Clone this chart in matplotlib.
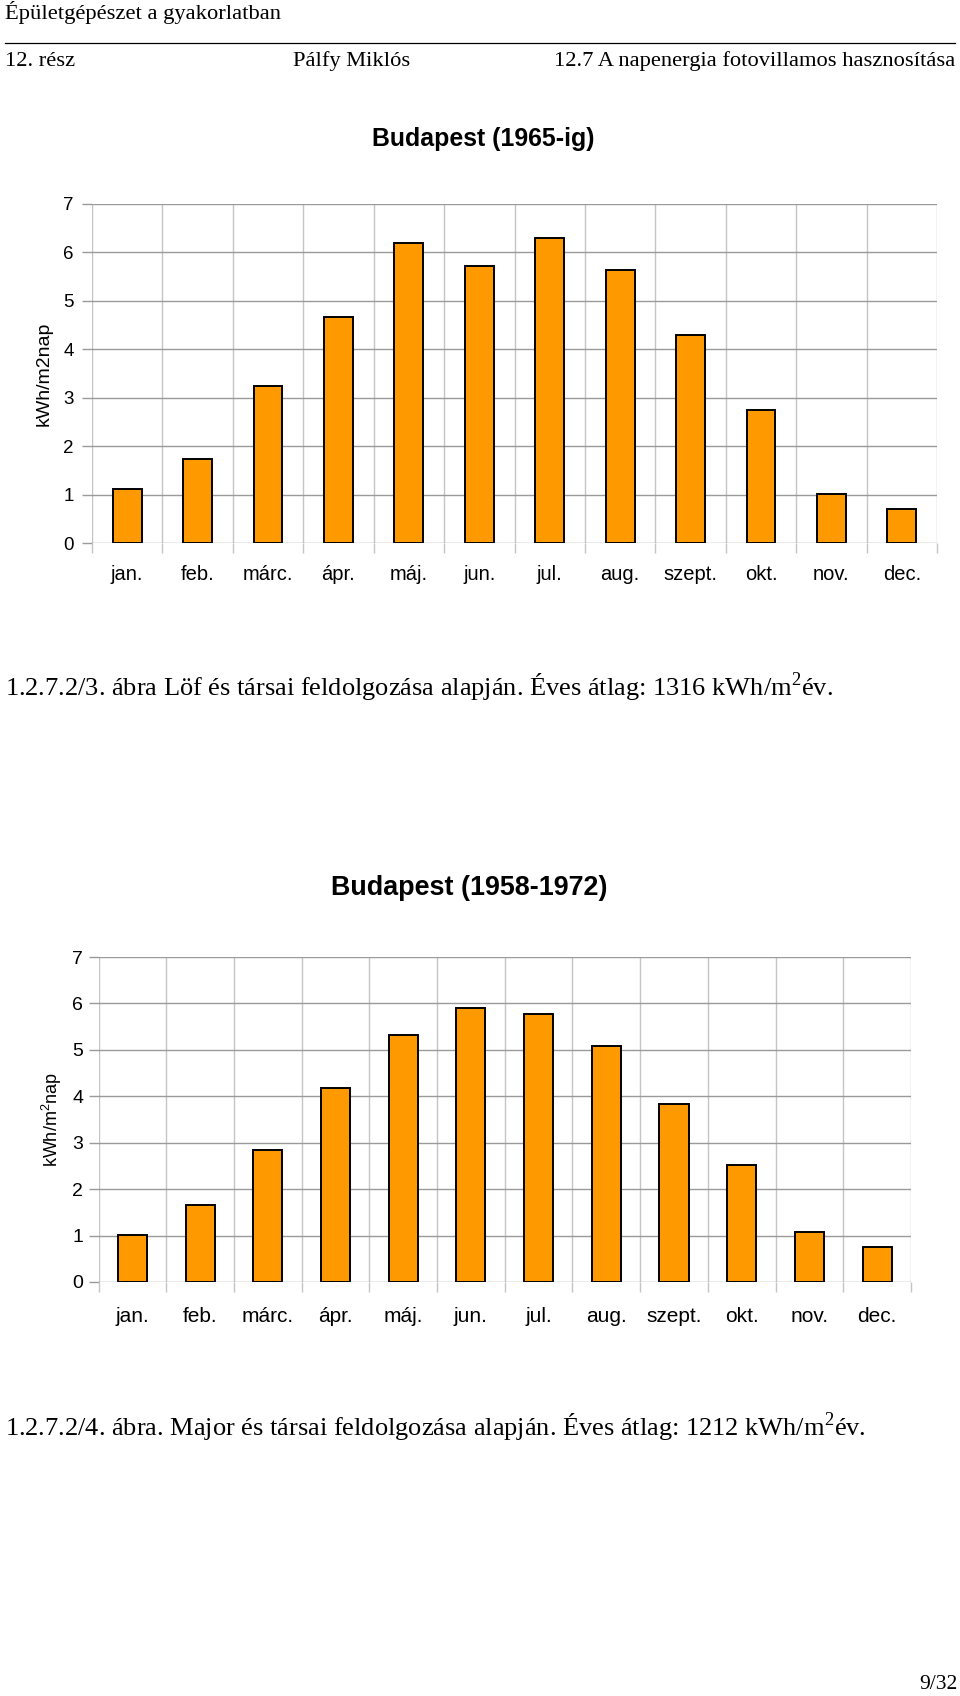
import matplotlib
matplotlib.use("Agg")
import matplotlib.pyplot as plt
from matplotlib.ticker import FixedLocator

plt.rcParams['mathtext.fontset'] = 'custom'
plt.rcParams['mathtext.rm'] = 'Liberation Serif'
plt.rcParams['mathtext.sf'] = 'Liberation Sans'

months = ["jan.", "feb.", "márc.", "ápr.", "máj.", "jun.", "jul.", "aug.",
          "szept.", "okt.", "nov.", "dec."]
values_1965 = [1.11, 1.74, 3.25, 4.67, 6.20, 5.71, 6.30, 5.64, 4.30, 2.74, 1.01, 0.71]
values_1958 = [1.01, 1.66, 2.85, 4.17, 5.31, 5.90, 5.78, 5.09, 3.83, 2.52, 1.08, 0.75]
y_ticks = [0, 1, 2, 3, 4, 5, 6, 7]

title_1 = "Budapest (1965-ig)"
title_2 = "Budapest (1958-1972)"
ylabel_1 = "kWh/m2nap"
ylabel_2 = r"kWh/m$^{\mathsf{2}}$nap"
caption_1 = r"1.2.7.2/3. ábra Löf és társai feldolgozása alapján. Éves átlag: 1316 kWh/m$^{2}$év."
caption_2 = r"1.2.7.2/4. ábra. Major és társai feldolgozása alapján. Éves átlag: 1212 kWh/m$^{2}$év."

W, H = 960, 1696
fig = plt.figure(figsize=(W / 100, H / 100), dpi=100)

def fx(x):
    return x / W

def fy(y):
    return 1 - y / H

SERIF = "Liberation Serif"
SANS = "Liberation Sans"
GRID = "#9a9a9a"
VGRID = "#c4c4c4"
ORANGE = "#FF9900"

# Header
fig.text(fx(5), fy(19), "Épületgépészet a gyakorlatban", family=SERIF, fontsize=16.2,
         va="baseline", ha="left")
fig.add_artist(plt.Line2D([fx(5), fx(955)], [fy(43), fy(43)], color="black", lw=0.9))
fig.text(fx(5), fy(66), "12. rész", family=SERIF, fontsize=16.2, va="baseline", ha="left")
fig.text(fx(293), fy(66), "Pálfy Miklós", family=SERIF, fontsize=16.2, va="baseline", ha="left")
fig.text(fx(955), fy(66), "12.7 A napenergia fotovillamos hasznosítása", family=SERIF,
         fontsize=16.2, va="baseline", ha="right")


def chart(left, right, top, bottom, values, title, title_x, title_y, title_size,
          ylabel, ylabel_x, ylabel_size, width, tick_size, month_size, ypad, xpad):
    ax = fig.add_axes([fx(left), fy(bottom), fx(right) - fx(left), fy(top) - fy(bottom)])
    n = len(values)
    xs = [i + 0.5 for i in range(n)]
    ax.bar(xs, values, width=width, color=ORANGE, edgecolor="black", linewidth=1.4, zorder=3)
    ax.set_xlim(0, n)
    ax.set_ylim(0, 7)
    for s in ax.spines.values():
        s.set_visible(False)
    ax.set_yticks(y_ticks)
    ax.set_yticklabels([str(v) for v in y_ticks])
    ax.set_xticks(xs)
    ax.set_xticklabels(months)
    ax.xaxis.set_minor_locator(FixedLocator(list(range(n + 1))))
    ax.grid(True, which="major", axis="y", color=GRID, lw=1.0, zorder=0)
    ax.grid(True, which="minor", axis="x", color=VGRID, lw=1.0, zorder=0)
    ax.tick_params(axis="y", which="major", length=7, color=GRID, width=1.0, pad=ypad,
                   labelsize=tick_size)
    ax.tick_params(axis="x", which="major", length=0, pad=xpad, labelsize=month_size)
    ax.tick_params(axis="x", which="minor", length=7, color=VGRID, width=1.0)
    for lab in ax.get_xticklabels() + ax.get_yticklabels():
        lab.set_family(SANS)
    fig.text(fx(title_x), fy(title_y), title, family=SANS, weight="bold", fontsize=title_size,
             ha="center", va="center")
    fig.text(fx(ylabel_x), fy((top + bottom) / 2), ylabel, family=SANS, fontsize=ylabel_size,
             rotation=90, ha="center", va="center")
    return ax


chart(92, 937, 204, 543, values_1965, title_1, 483, 139, 17.9, ylabel_1, 44, 14,
      0.41, 13.5, 14.5, 6, 16)
fig.text(fx(5), fy(696), caption_1, family=SERIF, fontsize=19, va="baseline", ha="left")

chart(98.5, 911, 957, 1282, values_1958, title_2, 469, 888, 19.4, ylabel_2, 52, 13,
      0.43, 14, 15, 4, 18)
fig.text(fx(5), fy(1436), caption_2, family=SERIF, fontsize=19, va="baseline", ha="left")

fig.text(fx(957), fy(1689), "9/32", family=SERIF, fontsize=15.5, va="baseline", ha="right")

fig.savefig("out.png", dpi=100, facecolor="white")
